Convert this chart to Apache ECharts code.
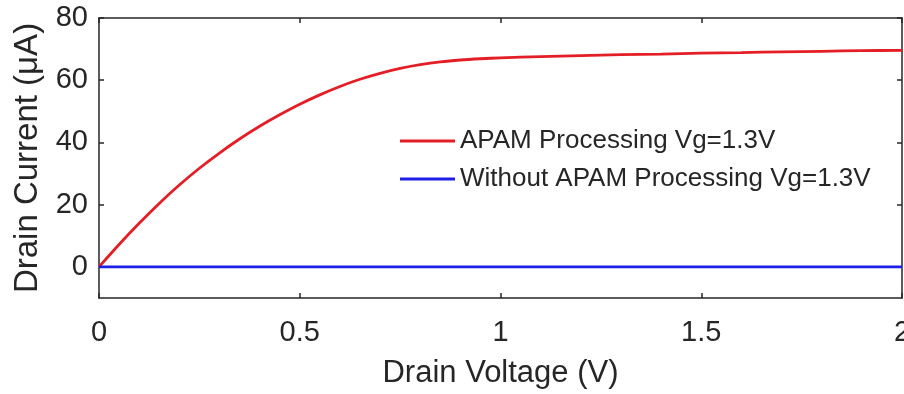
<!DOCTYPE html>
<html>
<head>
<meta charset="utf-8">
<script src="https://cdn.jsdelivr.net/npm/echarts@6/dist/echarts.min.js"></script>
<style>html,body{margin:0;padding:0;background:#fff;}#c{width:904px;height:394px;}</style>
</head>
<body>
<div id="c"></div>
<script>
const voltage = [0, 0.05, 0.1, 0.15, 0.2, 0.25, 0.3, 0.35, 0.4, 0.45, 0.5, 0.55, 0.6, 0.65, 0.7, 0.75, 0.8, 0.85, 0.9, 0.95, 1.0, 1.1, 1.2, 1.3, 1.4, 1.5, 1.6, 1.7, 1.8, 1.9, 2.0];
const apamCurrent = [0, 7.2, 14.0, 20.4, 26.3, 31.7, 36.6, 41.1, 45.2, 48.9, 52.3, 55.3, 58.0, 60.3, 62.2, 63.8, 65.0, 65.9, 66.5, 66.9, 67.2, 67.6, 67.9, 68.2, 68.4, 68.7, 68.9, 69.1, 69.3, 69.5, 69.6];
const noApamCurrent = [0, 0, 0, 0, 0, 0, 0, 0, 0, 0, 0, 0, 0, 0, 0, 0, 0, 0, 0, 0, 0, 0, 0, 0, 0, 0, 0, 0, 0, 0, 0];
const xTicks = [0, 0.5, 1, 1.5, 2];
const yTicks = [0, 20, 40, 60, 80];
const seriesNames = ['APAM Processing Vg=1.3V', 'Without APAM Processing Vg=1.3V'];

const FONT = 'Liberation Sans';
const AX = '#262626';
const RED = '#e41e26';
const BLUE = '#1e1ee6';

const chart = echarts.init(document.getElementById('c'), null, {renderer: 'canvas'});
const baseLine = {show: true, onZero: false, lineStyle: {color: AX, width: 1.5}};
const tick = vals => ({show: true, inside: true, length: 5, lineStyle: {color: AX, width: 1.5}, customValues: vals});
chart.setOption({
  animation: false,
  backgroundColor: '#fff',
  grid: {left: 99, right: 2, top: 18, bottom: 96, containLabel: false, outerBoundsMode: 'none'},
  legend: {
    left: 395, top: 121, orient: 'vertical', itemGap: 8,
    itemWidth: 55, itemHeight: 3,
    textStyle: {fontFamily: FONT, fontSize: 26, color: AX, lineHeight: 30},
    data: [
      {name: seriesNames[0], icon: 'rect', itemStyle: {color: RED}},
      {name: seriesNames[1], icon: 'rect', itemStyle: {color: BLUE}}
    ]
  },
  xAxis: [{
    type: 'value', min: 0, max: 2, interval: 0.5, position: 'bottom',
    name: 'Drain Voltage (V)', nameLocation: 'middle', nameGap: 60,
    nameTextStyle: {fontFamily: FONT, fontSize: 31, color: AX},
    axisLine: baseLine,
    axisTick: tick(xTicks),
    axisLabel: {fontFamily: FONT, fontSize: 29, color: AX, margin: 20, customValues: xTicks},
    splitLine: {show: false}
  }, {
    type: 'value', min: 0, max: 2, interval: 0.5, position: 'top',
    axisLine: baseLine,
    axisTick: tick(xTicks),
    axisLabel: {show: false},
    splitLine: {show: false}
  }],
  yAxis: [{
    type: 'value', min: -10, max: 80, position: 'left',
    name: 'Drain Current (\u03bcA)', nameLocation: 'middle', nameGap: 48,
    nameTextStyle: {fontFamily: FONT, fontSize: 33, color: AX},
    axisLine: baseLine,
    axisTick: tick(yTicks),
    axisLabel: {fontFamily: FONT, fontSize: 29, color: AX, margin: 11, customValues: yTicks},
    splitLine: {show: false}
  }, {
    type: 'value', min: -10, max: 80, position: 'right',
    axisLine: baseLine,
    axisTick: tick(yTicks),
    axisLabel: {show: false},
    splitLine: {show: false}
  }],
  series: [{
    name: seriesNames[0], type: 'line', xAxisIndex: 0, yAxisIndex: 0,
    data: voltage.map((v, i) => [v, apamCurrent[i]]),
    smooth: 0.3, showSymbol: false, symbol: 'none',
    lineStyle: {color: RED, width: 2.8}, itemStyle: {color: RED}
  }, {
    name: seriesNames[1], type: 'line', xAxisIndex: 0, yAxisIndex: 0,
    data: voltage.map((v, i) => [v, noApamCurrent[i]]),
    showSymbol: false, symbol: 'none',
    lineStyle: {color: BLUE, width: 2.8}, itemStyle: {color: BLUE}
  }]
});
</script>
</body>
</html>
